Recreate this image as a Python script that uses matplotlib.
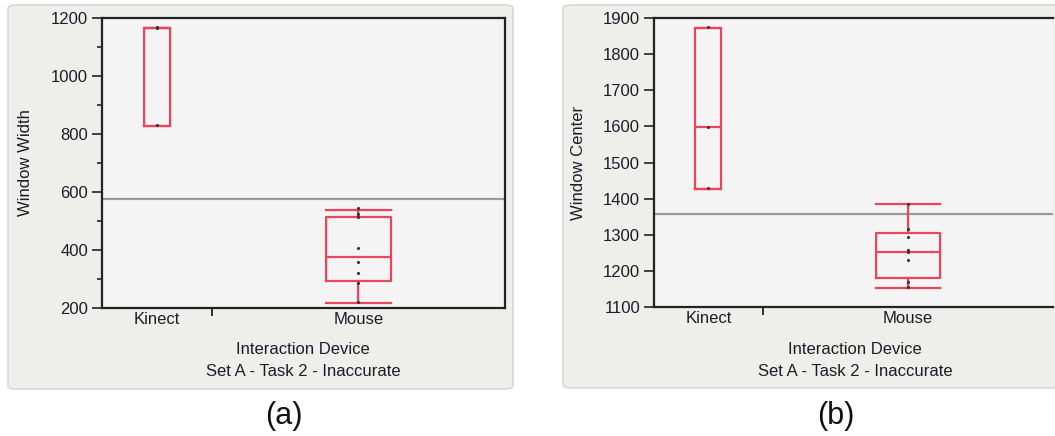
import matplotlib
matplotlib.use("Agg")
import matplotlib.pyplot as plt
from matplotlib.patches import FancyBboxPatch
from matplotlib.ticker import MultipleLocator, FixedLocator

# ---------------- data ----------------
categories = ["Kinect", "Mouse"]
group_sizes = [3, 8]

# (a) Window Width
width_kinect_pts = [1170, 1165, 830]
width_mouse_pts = [544, 523, 515, 406, 358, 322, 287, 220]
width_kinect_box = dict(whislo=827, q1=827, med=1165, q3=1165, whishi=1165)
width_mouse_box = dict(whislo=217, q1=293, med=376, q3=514, whishi=538)
width_mean = 576

# (b) Window Center
center_kinect_pts = [1877, 1599, 1430]
center_mouse_pts = [1385, 1315, 1292, 1258, 1251, 1229, 1169, 1156]
center_kinect_box = dict(whislo=1427, q1=1427, med=1598, q3=1872, whishi=1872)
center_mouse_box = dict(whislo=1153, q1=1179, med=1251, q3=1304, whishi=1384)
center_mean = 1358

# ---------------- figure ----------------
W, H = 1055, 436
plt.rcParams["font.family"] = ["Liberation Sans", "DejaVu Sans"]
fig = plt.figure(figsize=(W / 100, H / 100), dpi=100)
fig.patch.set_facecolor("white")

TXT = "#1c1c28"
BOXC = "#e8465c"
PANEL = "#eeeeea"
AXBG = "#f4f4f4"


def fx(px):
    return px / W


def fy(py):
    return 1 - py / H


def panel(x0, y0, x1, y1):
    p = FancyBboxPatch((fx(x0), fy(y1)), fx(x1) - fx(x0), fy(y0) - fy(y1),
                       boxstyle="round,pad=0,rounding_size=0.008",
                       transform=fig.transFigure, facecolor=PANEL,
                       edgecolor="#d8d8d4", linewidth=1.2, zorder=-5)
    fig.patches.append(p)


# positions proportional to group size
edges = [0, group_sizes[0], group_sizes[0] + group_sizes[1]]
positions = [(edges[0] + edges[1]) / 2, (edges[1] + edges[2]) / 2]
box_widths = [0.72, 1.76]


def make_axes(left, right, top, bottom):
    ax = fig.add_axes([fx(left), fy(bottom), fx(right) - fx(left), fy(top) - fy(bottom)])
    ax.set_zorder(2)
    ax.set_facecolor(AXBG)
    for s in ax.spines.values():
        s.set_linewidth(1.6)
        s.set_color("#222222")
    return ax


def draw(ax, boxes, pts, mean, ylim, major, minor, ylabel, ylabel_x):
    ax.axhline(mean, color="#9a9a9a", lw=1.6, zorder=1)
    stats = []
    for b, lab in zip(boxes, categories):
        d = dict(b)
        d["label"] = lab
        d["fliers"] = []
        stats.append(d)
    lp = dict(color=BOXC, linewidth=1.6)
    ax.bxp(stats, positions=positions, widths=box_widths, capwidths=box_widths,
           showfliers=False, boxprops=lp, whiskerprops=lp, capprops=lp,
           medianprops=lp, manage_ticks=False, zorder=2)
    for p, vals in zip(positions, pts):
        ax.scatter([p] * len(vals), vals, s=5, color="#333333", zorder=3, linewidths=0)
    ax.set_xlim(edges[0], edges[-1])
    ax.set_ylim(*ylim)
    ax.yaxis.set_major_locator(MultipleLocator(major))
    if minor:
        ax.yaxis.set_minor_locator(MultipleLocator(minor))
    ax.set_xticks(positions)
    ax.set_xticklabels(categories)
    ax.xaxis.set_minor_locator(FixedLocator([edges[1]]))
    ax.tick_params(axis="x", which="major", length=0, pad=3, labelsize=12, labelcolor=TXT)
    ax.tick_params(axis="x", which="minor", length=5.5, width=1.3, color="#222222")
    ax.tick_params(axis="y", which="major", length=7, width=1.2, pad=3,
                   labelsize=12, labelcolor=TXT, color="#222222")
    ax.tick_params(axis="y", which="minor", length=3.6, width=1.2, color="#222222")
    ax.set_ylabel(ylabel, fontsize=12, color=TXT, rotation=90)
    ax.yaxis.set_label_coords(ylabel_x, 0.5)


# panel (a)
panel(8, 5, 513, 389)
axa = make_axes(102, 505, 18, 308)
draw(axa, [width_kinect_box, width_mouse_box], [width_kinect_pts, width_mouse_pts],
     width_mean, (200, 1200), 200, 100, "Window Width", (33 - 102) / 403)
fig.text(fx(303), fy(350), "Interaction Device", ha="center", va="center", fontsize=12, color=TXT)
fig.text(fx(303), fy(371), "Set A - Task 2 - Inaccurate", ha="center", va="center", fontsize=12, color=TXT)
fig.text(fx(284), fy(416), "(a)", ha="center", va="center", fontsize=22, color="#111111")

# panel (b)
panel(563, 5, 1075, 388)
axb = make_axes(654, 1053, 18.3, 306.7)
axb.spines["right"].set_visible(False)
draw(axb, [center_kinect_box, center_mouse_box], [center_kinect_pts, center_mouse_pts],
     center_mean, (1100, 1900), 100, None, "Window Center", (586 - 654) / 399)
fig.text(fx(855), fy(350), "Interaction Device", ha="center", va="center", fontsize=12, color=TXT)
fig.text(fx(855), fy(371), "Set A - Task 2 - Inaccurate", ha="center", va="center", fontsize=12, color=TXT)
fig.text(fx(836), fy(416), "(b)", ha="center", va="center", fontsize=22, color="#111111")

fig.savefig("out.png", dpi=100, facecolor="white")
